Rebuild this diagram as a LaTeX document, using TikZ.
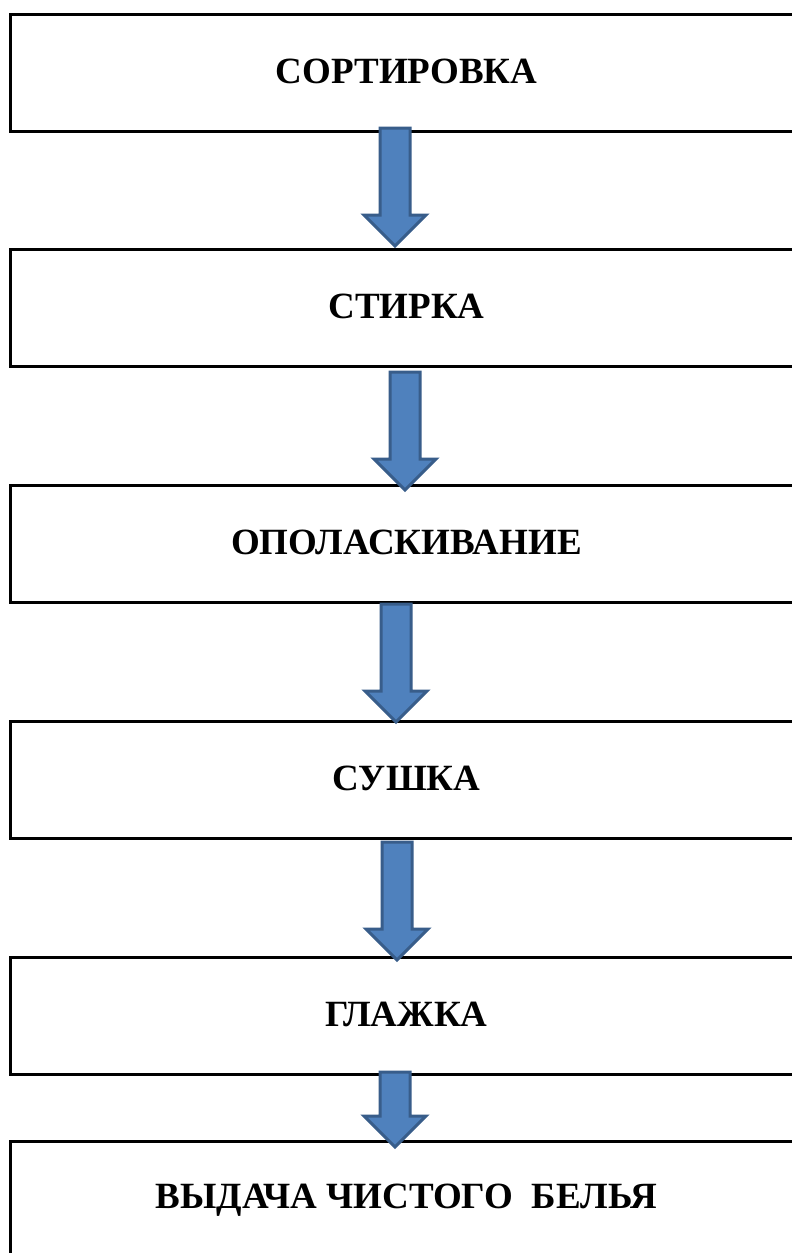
\documentclass[tikz,border=0pt]{standalone}
\usepackage{fontspec}
\setmainfont{Liberation Serif}
\definecolor{arrowfill}{HTML}{4F81BD}
\definecolor{arrowline}{HTML}{385D8A}
\tikzset{
  stagebox/.style={draw=black, line width=3pt, rectangle, anchor=north west,
    minimum width=792pt, minimum height=117pt, inner sep=0pt,
    font=\fontsize{37}{40}\selectfont\bfseries},
  blockarrow/.style={fill=arrowfill, draw=arrowline, line width=3pt, line join=miter}
}
% block arrow pointing down: centre x, top y, tip y
\newcommand{\flowarrow}[3]{%
  \draw[blockarrow] (#1-15,#2) -- (#1+15,#2) -- (#1+15,#3-31) -- (#1+31,#3-31)
    -- (#1,#3) -- (#1-31,#3-31) -- (#1-15,#3-31) -- cycle;}
\newcommand{\stagetext}[1]{\raisebox{4pt}{#1}}
\begin{document}
\begin{tikzpicture}[x=1pt, y=-1pt]
  \useasboundingbox (0,0) rectangle (792,1253);
  \clip (0,0) rectangle (792,1253);
  \fill[white] (0,0) rectangle (792,1253);
  \node[stagebox] (s1) at (9,13)   {\stagetext{СОРТИРОВКА}};
  \node[stagebox] (s2) at (9,248)  {\stagetext{СТИРКА}};
  \node[stagebox] (s3) at (9,484)  {\stagetext{ОПОЛАСКИВАНИЕ}};
  \node[stagebox] (s4) at (9,720)  {\stagetext{СУШКА}};
  \node[stagebox] (s5) at (9,956)  {\stagetext{ГЛАЖКА}};
  \node[stagebox] (s6) at (9,1140) {\stagetext{ВЫДАЧА ЧИСТОГО\ \ БЕЛЬЯ}};
  \flowarrow{395}{128}{246}
  \flowarrow{405}{372}{490}
  \flowarrow{396}{604}{722}
  \flowarrow{397}{842}{960}
  \flowarrow{395}{1072}{1147}
\end{tikzpicture}
\end{document}
